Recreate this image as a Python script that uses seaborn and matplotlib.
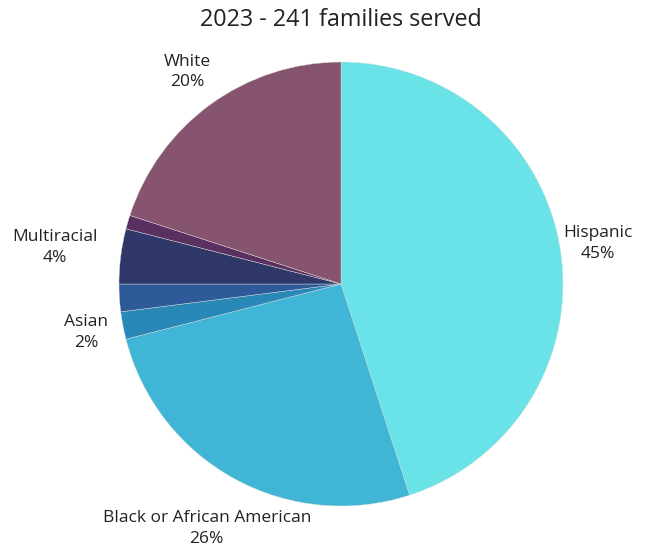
import numpy as np
import matplotlib
matplotlib.use("Agg")
import matplotlib.pyplot as plt
import seaborn as sns

# data, clockwise from 12 o'clock
groups = ["Hispanic", "Black or African American", "Asian", "Other", "Multiracial", "Other2", "White"]
shares = [45, 26, 2, 2, 4, 1, 20]
shown = [True, True, True, False, True, False, True]
colors = ["#6ae3e8", "#40b5d5", "#2a88b8", "#2d5b9a", "#2f3868", "#5a3060", "#87546f"]
# label distance from centre (in radii) for each slice
label_dist = [1.17, 1.255, 1.17, 1.2, 1.3, 1.18, 1.18]

sns.set_theme(style="white")
plt.rcParams["font.family"] = ["Open Sans", "DejaVu Sans"]

fig = plt.figure(figsize=(6.51, 5.49), dpi=100)
ax = fig.add_axes([119 / 651, 43 / 549, 444 / 651, 444 / 549])

wedges, _ = ax.pie(shares, colors=colors, startangle=90, counterclock=False,
                   wedgeprops=dict(linewidth=0.3, edgecolor="#dddddd"))
ax.set_xlim(-1, 1)
ax.set_ylim(-1, 1)
ax.set_aspect("equal")
ax.axis("off")

for w, name, val, show, d in zip(wedges, groups, shares, shown, label_dist):
    if not show:
        continue
    ang = np.deg2rad((w.theta1 + w.theta2) / 2)
    ax.text(d * np.cos(ang), d * np.sin(ang), f"{name}\n{val}%", ha="center", va="center",
            fontsize=12.5, color="#222222", linespacing=1.4, clip_on=False)

fig.text(341 / 651, 1 - 20 / 549, "2023 - 241 families served", ha="center", va="center",
         fontsize=16.8, color="#222222")

fig.savefig("out.png", dpi=100, facecolor="white")
